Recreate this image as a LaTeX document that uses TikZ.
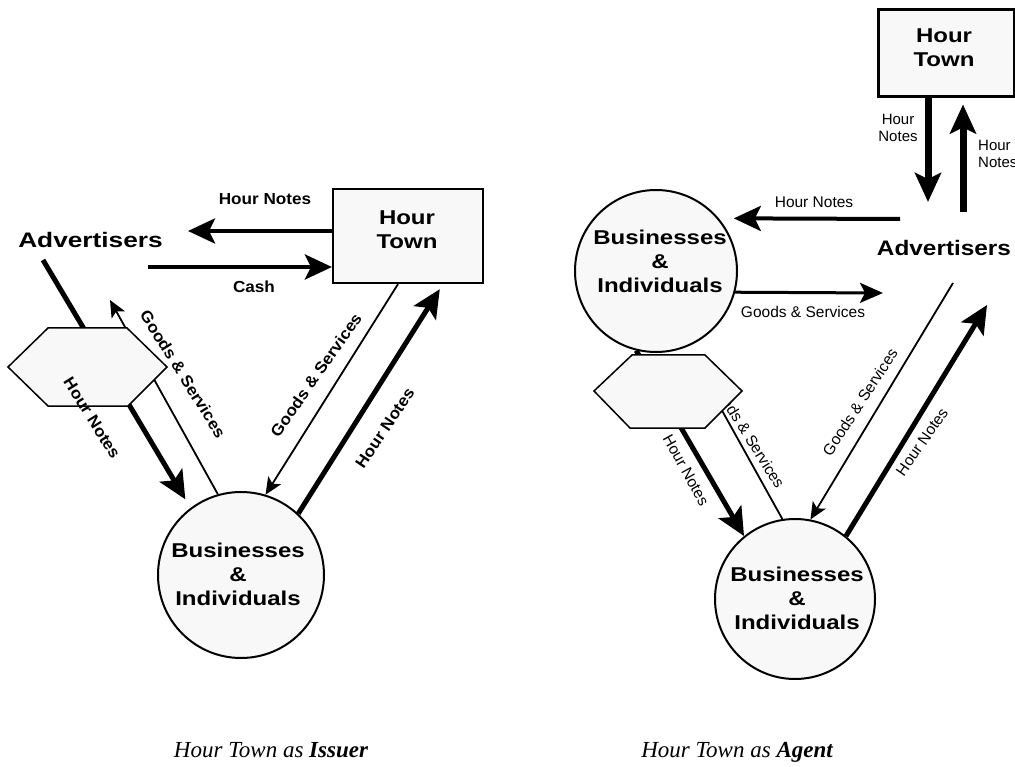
\documentclass[tikz,border=0pt]{standalone}
\usepackage{fontspec}
\setmainfont{Liberation Serif}
\newfontfamily\bigfont[FakeStretch=1.2]{Liberation Sans}
\newfontfamily\advfont[FakeStretch=1.25]{Liberation Sans}
\newfontfamily\advfontR[FakeStretch=1.16]{Liberation Sans}
\newfontfamily\lblfont[FakeStretch=1.07]{Liberation Sans}
\newfontfamily\rlblfont{Liberation Sans}
\usetikzlibrary{arrows.meta}
\definecolor{nodefill}{HTML}{F8F8F8}
\tikzset{
  bigtext/.style={font=\bigfont\bfseries\fontsize{20}{24}\selectfont, align=center, inner sep=0pt},
  advtext/.style={font=\advfont\bfseries\fontsize{21}{24}\selectfont, inner sep=0pt},
  advtextR/.style={font=\advfontR\bfseries\fontsize{21}{24}\selectfont, inner sep=0pt},
  boldlbl/.style={font=\lblfont\bfseries\fontsize{16}{18}\selectfont, inner sep=0pt},
  reglbl/.style={font=\rlblfont\fontsize{15.5}{17}\selectfont, inner sep=0pt},
  smalllbl/.style={font=\rlblfont\fontsize{15}{17}\selectfont, inner sep=0pt},
  circnode/.style={circle, draw, line width=2pt, fill=nodefill, inner sep=0pt},
  boxnode/.style={rectangle, draw, fill=nodefill, inner sep=0pt},
  hexst/.style={draw, line width=1.5pt, fill=nodefill, line join=miter},
  thickarrow/.style={line width=5pt, -{Stealth[length=28pt,width=26pt,inset=6pt]}},
  medarrow/.style={line width=4.5pt, -{Stealth[length=27pt,width=25pt,inset=6pt]}},
  vertarrow/.style={line width=7pt, -{Stealth[length=29pt,width=26pt,inset=6pt]}},
  thinarrow/.style={line width=1.8pt, -{Stealth[length=17pt,width=15pt,inset=4pt]}},
  gsarrow/.style={line width=3pt, -{Stealth[length=23pt,width=20pt,inset=5pt]}},
  thinline/.style={line width=1.8pt},
  caption/.style={font=\itshape\fontsize{23}{26}\selectfont, inner sep=0pt}
}
\begin{document}
\begin{tikzpicture}[x=1pt, y=-1pt]
\useasboundingbox (0,0) rectangle (1015,767);

% ---------------- LEFT: Hour Town as Issuer ----------------
\node[circnode, minimum size=166pt] (bizL) at (241,575) {};
\node[bigtext] (bizLt) at (238,574) {Businesses\\\&\\Individuals};
\node[boxnode, line width=2.2pt, minimum width=150pt, minimum height=94pt] (townL) at (408,236) {};
\node[bigtext] (townLt) at (407,230) {Hour\\Town};
\node[advtext] (advL) at (90.5,240) {Advertisers};

\coordinate (hnLtip) at (188,231);
\coordinate (cashL) at (148,267);
\coordinate (advLfoot) at (43,260);
\coordinate (gsLtip) at (110,300);

\draw[medarrow] ([yshift=5pt]townL.west) -- (hnLtip);
\draw[medarrow] (cashL) -- ([yshift=-31pt]townL.west);
\draw[thickarrow, shorten >=10pt] (advLfoot) -- (bizL.127.5);
\draw[thinarrow] (bizL.106) -- (gsLtip);
\draw[thinarrow] ([xshift=-10pt]townL.south) -- (bizL.73);
\draw[thickarrow, shorten >=6pt] (bizL.47) -- ([xshift=35pt]townL.south);

\draw[hexst] (8,367) -- (48,328) -- (127,328) -- (167,367) -- (128,406) -- (48,406) -- cycle;

\node[boldlbl] (lblHN1) at (265,199) {Hour Notes};
\node[boldlbl] (lblCash) at (254,287) {Cash};
\node[boldlbl, rotate=-58] (lblHN2) at (92,418) {Hour Notes};
\node[boldlbl, rotate=-58] (lblGS1) at (183,374) {Goods \& Services};
\node[boldlbl, rotate=55] (lblGS2) at (316,375) {Goods \& Services};
\node[boldlbl, rotate=56] (lblHN3) at (385,428) {Hour Notes};

\node[caption, anchor=base] (capL) at (271,757) {Hour Town as \textbf{Issuer}};

% ---------------- RIGHT: Hour Town as Agent ----------------
\node[circnode, minimum size=162pt] (bizR1) at (656,271) {};
\node[bigtext] (bizR1t) at (660,261) {Businesses\\\&\\Individuals};
\node[circnode, minimum size=160pt] (bizR2) at (795,599) {};
\node[bigtext] (bizR2t) at (797,598) {Businesses\\\&\\Individuals};
\node[boxnode, line width=3pt, minimum width=136pt, minimum height=87pt] (townR) at (946,53.5) {};
\node[bigtext] (townRt) at (944,48) {Hour\\Town};
\node[advtextR] (advR) at (944,248) {Advertisers};

\coordinate (dnTip) at (928,202);
\coordinate (upTail) at (963,212);
\coordinate (hnRtail) at (900,219);
\coordinate (gsRtip) at (883,293);
\coordinate (gsRtail) at (953,283);
\coordinate (hnRtip) at (987,305);

\draw[vertarrow] ([xshift=-18pt]townR.south) -- (dnTip);
\draw[vertarrow, shorten >=6pt] (upTail) -- ([xshift=17pt]townR.south);
\draw[medarrow, line width=4pt, shorten >=15pt] (hnRtail) -- (bizR1.40);
\draw[gsarrow] (bizR1.-15) -- (gsRtip);
\draw[thickarrow] (bizR1.-104) -- (bizR2.129);
\draw[thinline, shorten >=14pt] (bizR2.99) -- (bizR1.-68);
\draw[thinarrow] (gsRtail) -- (bizR2.79);
\draw[thickarrow] (bizR2.51) -- (hnRtip);

\node[reglbl, rotate=-58] (lblGS3) at (748,434) {Goods \& Services};

\draw[hexst] (594,391) -- (632,355) -- (705,355) -- (742,391) -- (705,428) -- (630,428) -- cycle;

\node[smalllbl, align=center] (lblHN4) at (898,127.5) {Hour\\Notes};
\node[smalllbl, align=left, anchor=west] (lblHN5) at (978,154) {Hour\\Notes};
\node[reglbl] (lblHN6) at (814,202) {Hour Notes};
\node[reglbl] (lblGS4) at (803,312) {Goods \& Services};
\node[reglbl, rotate=-61] (lblHN7) at (686,470) {Hour Notes};
\node[reglbl, rotate=57] (lblGS5) at (860,402) {Goods \& Services};
\node[reglbl, rotate=55] (lblHN8) at (922,442) {Hour Notes};

\node[caption, anchor=base] (capR) at (737,757) {Hour Town as \textbf{Agent}};
\end{tikzpicture}
\end{document}
